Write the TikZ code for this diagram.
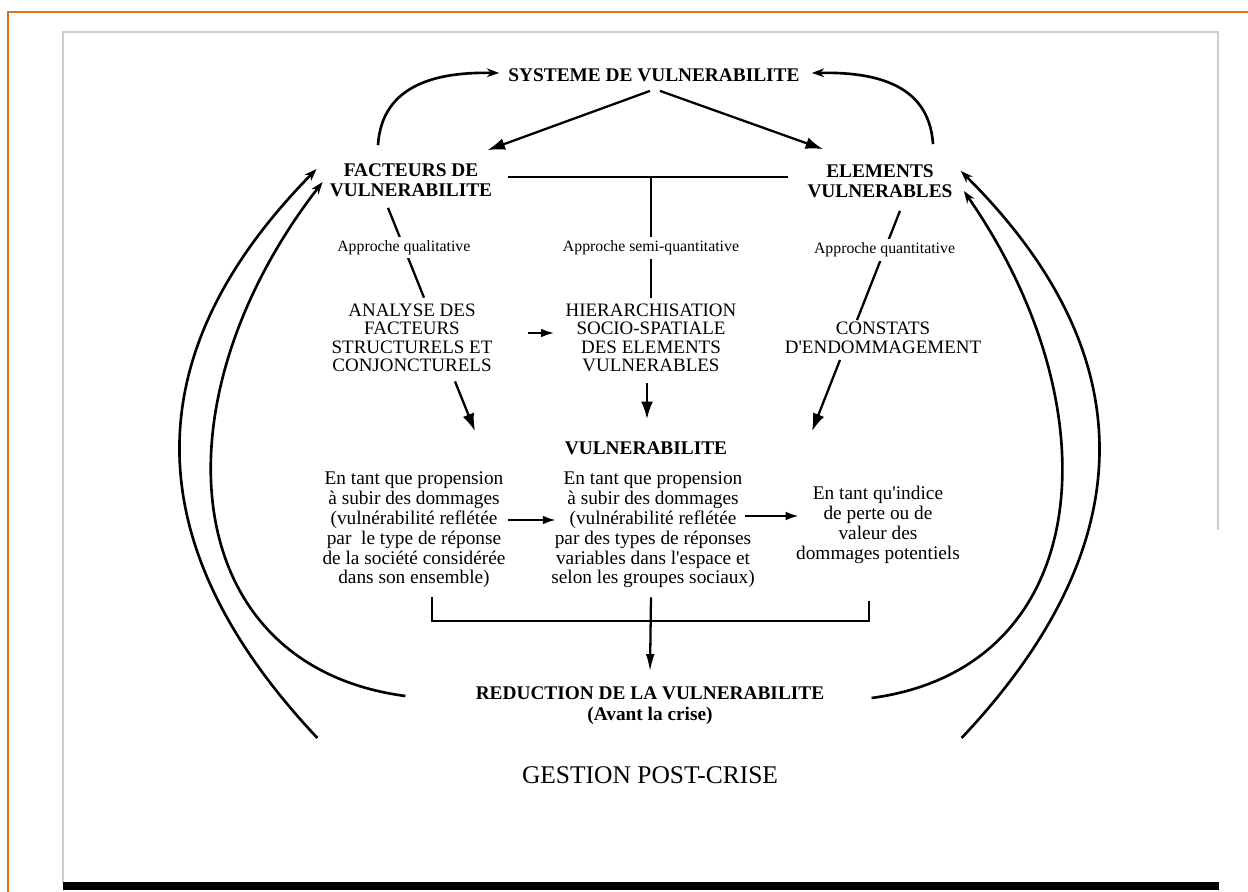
\documentclass[tikz,border=0pt]{standalone}
\usepackage{fontspec}
\setmainfont{Liberation Serif}
\usetikzlibrary{arrows.meta}
\definecolor{frameorange}{RGB}{226,112,24}
\definecolor{scangray}{RGB}{205,205,205}
\tikzset{
head/.style={font=\bfseries\fontsize{11}{11.3}\selectfont, align=center, inner sep=0pt}, % bold titles
box/.style={font=\fontsize{10.8}{10.5}\selectfont, align=center, inner sep=0pt}, % capital blocks
txt/.style={font=\fontsize{11}{11.3}\selectfont, align=center, inner sep=0pt}, % running text
approach/.style={font=\fontsize{9}{10}\selectfont, fill=white, inner sep=2pt}, % labels sitting on a line
link/.style={line width=1.3pt},
bigarrow/.style={link, -{Latex[length=10pt,width=6.8pt]}},
smallarrow/.style={link, -{Latex[length=7.5pt,width=5pt]}},
feedback/.style={line width=1.5pt, -{Stealth[length=7pt,width=5pt]}}, % the return loops
}

\begin{document}
\begin{tikzpicture}[x=0.02cm, y=-0.02cm] % one unit is one pixel of the scan
        \useasboundingbox (0,0) rectangle (1248,892);

        % sheet of the scan
        \draw[frameorange, line width=1.3pt] (8,892) -- (8,12) -- (1248,12);
        \draw[scangray, line width=0.8pt] (63,883) -- (63,32) -- (1218,32) -- (1218,530);
        \fill (63,882) rectangle (1219,890);

        \node[head] (sys) at (654,75) {SYSTEME DE VULNERABILITE};
        \node[head] (fact) at (411,180) {FACTEURS DE\\VULNERABILITE};
        \node[head] (elem) at (880,181) {ELEMENTS\\VULNERABLES};
        \node[box] (ana) at (412,338) {ANALYSE DES\\FACTEURS\\STRUCTURELS ET\\CONJONCTURELS};
        \node[box] (hier) at (651,338) {HIERARCHISATION\\SOCIO-SPATIALE\\DES ELEMENTS\\VULNERABLES};
        \node[box] (const) at (883,338) {CONSTATS\\D\textquotesingle ENDOMMAGEMENT};
        \node[head] (vuln) at (646,448) {VULNERABILITE};
        \node[txt] (lt) at (414,530) {En tant que propension\\ à subir des dommages\\ (vulnérabilité reflétée\\ par\ \ le type de réponse\\ de la société considérée\\ dans son ensemble)};
        \node[txt] (mt) at (653,530) {En tant que propension\\ à subir des dommages\\ (vulnérabilité reflétée\\ par des types de réponses\\ variables dans l\textquotesingle espace et\\ selon les groupes sociaux)};
        \node[txt] (rt) at (878,525) {En tant qu\textquotesingle indice\\ de perte ou de\\ valeur des\\ dommages potentiels};
        \node[head, font=\bfseries\fontsize{11}{12}\selectfont] (red) at (650,706) {REDUCTION DE LA VULNERABILITE\\(Avant la crise)};
        \node[font=\fontsize{14.5}{16}\selectfont] (gest) at (650,775) {GESTION POST-CRISE};

        % system and its two halves
        \draw[bigarrow] ([shift={(-4,9)}]sys.south) -- ([shift={(-5,-13)}]fact.north east);
        \draw[bigarrow] ([shift={(6,9)}]sys.south) -- ([shift={(16,-15)}]elem.north west);
        \draw[feedback] ([shift={(-33,-18)}]fact.north) .. controls +(4,-63) and +(-58,-1) .. ([shift={(-9,-2)}]sys.west);
        \draw[feedback] ([shift={(53,-20)}]elem.north) .. controls +(-4,-63) and +(58,-1) .. ([shift={(12,-2)}]sys.east);

        % the three approaches
        \draw[link] ([shift={(16,-3)}]fact.east) coordinate (barL) -- ([shift={(-19,-4)}]elem.west);
        \draw[link] ([shift={(-23,11)}]fact.south) -- node[approach, pos=0.44] (apql) {Approche qualitative} ([shift={(12,-6)}]ana.north);
        \draw[link] (hier.north |- barL) -- node[approach, pos=0.59] (apsq) {Approche semi-quantitative} ([shift={(0,-6)}]hier.north);
        \draw[link] ([shift={(20,13)}]elem.south) -- node[approach, pos=0.36] (apqn) {Approche quantitative} ([shift={(-26,-2)}]const.north);
        \draw[smallarrow] ([shift={(35,-5)}]ana.east) -- ([shift={(-11,-5)}]hier.west);

        % down to vulnerability
        \draw[bigarrow] ([shift={(43,9)}]ana.south) -- ([shift={(-171,-10)}]vuln.north);
        \draw[bigarrow] ([shift={(-4,11)}]hier.south) -- ([shift={(1,-22)}]vuln.north);
        \draw[bigarrow] ([shift={(-43,6)}]const.south) -- ([shift={(166,-10)}]vuln.north);
        \draw[smallarrow] ([shift={(2,-10)}]lt.east) -- ([shift={(5,-10)}]mt.west);
        \draw[smallarrow] ([shift={(-10,-14)}]mt.east) -- ([shift={(3,-9)}]rt.west);

        % bracket and reduction
        \draw[link] ([shift={(18,9)}]lt.south) |- ([shift={(-9,57)}]rt.south) -- ++(0,-20);
        \draw[link, -{Latex[length=10pt,width=5pt]}] ([shift={(-2,9)}]mt.south) -- ([shift={(0,-15)}]red.north);

        % return loops
        \draw[feedback] ([shift={(-158,32)}]red.west) .. controls +(-181,-192) and +(-184,187) .. ([shift={(-13,-11)}]fact.west);
        \draw[feedback] ([shift={(-70,-10)}]red.west) .. controls +(-228,-30) and +(-171,221) .. ([shift={(-7,2)}]fact.west);
        \draw[feedback] ([shift={(137,32)}]red.east) .. controls +(181,-192) and +(186,185) .. ([shift={(8,-10)}]elem.east);
        \draw[feedback] ([shift={(47,-8)}]red.east) .. controls +(223,-30) and +(152,219) .. ([shift={(11,10)}]elem.east);

    \end{tikzpicture}
\end{document}
